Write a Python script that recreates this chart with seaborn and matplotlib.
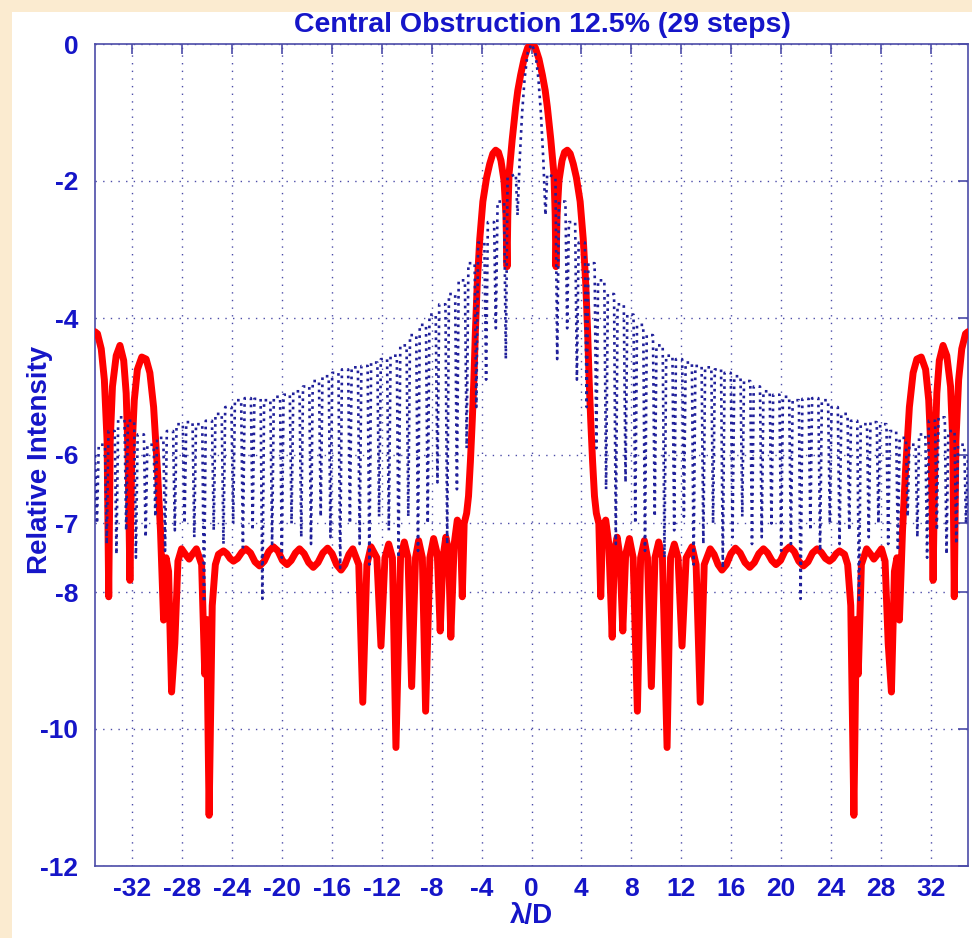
import matplotlib
matplotlib.use("Agg")
import matplotlib.pyplot as plt
from matplotlib.patches import Rectangle
import seaborn as sns
import pandas as pd

# ---------------- data ----------------
title = "Central Obstruction 12.5% (29 steps)"
x_label = "\u03bb/D"
y_label = "Relative Intensity"
x_ticks = [-32, -28, -24, -20, -16, -12, -8, -4, 0, 4, 8, 12, 16, 20, 24, 28, 32]
y_ticks = [0, -2, -4, -6, -7, -8, -10, -12]

# red curve (stepped apodisation), left half then right half
red_left = [
    (-35.0, -4.2), (-34.8, -4.23), (-34.5, -4.45), (-34.25, -4.9), (-34.03, -5.8), (-33.9, -8.07),
    (-33.78, -5.8), (-33.6, -5.0), (-33.3, -4.55), (-33.0, -4.4), (-32.7, -4.62), (-32.5, -5.1),
    (-32.35, -6.0), (-32.2, -7.83), (-32.05, -6.0), (-31.85, -5.2), (-31.6, -4.75), (-31.25, -4.57),
    (-30.9, -4.6), (-30.6, -4.8), (-30.3, -5.3), (-30.0, -6.2), (-29.75, -7.1), (-29.5, -8.41),
    (-29.3, -7.5), (-29.1, -7.7), (-28.86, -9.46), (-28.6, -8.75), (-28.35, -7.55), (-28.06, -7.37),
    (-27.75, -7.45), (-27.45, -7.52), (-27.2, -7.45), (-26.87, -7.37), (-26.45, -7.6), (-26.2, -9.2),
    (-26.05, -8.4), (-25.85, -11.26), (-25.6, -8.2), (-25.35, -7.6), (-25.1, -7.45), (-24.7, -7.4),
    (-24.43, -7.44), (-24.17, -7.51), (-23.9, -7.55), (-23.57, -7.51), (-23.23, -7.42), (-22.9, -7.37),
    (-22.53, -7.43), (-22.17, -7.56), (-21.8, -7.62), (-21.43, -7.55), (-21.07, -7.41), (-20.7, -7.34),
    (-20.33, -7.40), (-19.97, -7.54), (-19.6, -7.6), (-19.27, -7.54), (-18.93, -7.43), (-18.6, -7.37),
    (-18.23, -7.44), (-17.87, -7.57), (-17.5, -7.64), (-17.12, -7.57), (-16.73, -7.43), (-16.35, -7.36),
    (-15.99, -7.44), (-15.63, -7.60), (-15.27, -7.68), (-14.96, -7.60), (-14.64, -7.45), (-14.33, -7.37),
    (-13.85, -7.6), (-13.53, -9.61), (-13.2, -7.6), (-12.87, -7.34), (-12.4, -7.5), (-12.07, -8.79),
    (-11.75, -7.5), (-11.45, -7.3), (-11.15, -7.5), (-10.87, -10.27), (-10.5, -7.5), (-10.2, -7.27),
    (-9.9, -7.5), (-9.61, -9.38), (-9.3, -7.5), (-9.05, -7.25), (-8.75, -7.5), (-8.49, -9.74),
    (-8.15, -7.5), (-7.85, -7.22), (-7.55, -7.45), (-7.32, -8.57), (-7.1, -7.5), (-6.87, -7.2),
    (-6.65, -7.4), (-6.47, -8.66), (-6.2, -7.3), (-5.95, -6.95), (-5.7, -7.05), (-5.55, -8.07),
    (-5.4, -7.0), (-5.2, -6.85), (-5.05, -6.6), (-4.9, -6.1), (-4.75, -5.5), (-4.62, -4.9),
    (-4.5, -4.2), (-4.35, -3.5), (-4.15, -2.85), (-3.9, -2.3), (-3.6, -1.95), (-3.35, -1.75),
    (-3.1, -1.6), (-2.87, -1.55), (-2.65, -1.58), (-2.45, -1.7), (-2.2, -2.0), (-2.05, -2.5),
    (-1.96, -3.25), (-1.9, -2.5), (-1.8, -1.9), (-1.55, -1.4), (-1.27, -0.92), (-1.1, -0.68),
    (-0.87, -0.45), (-0.6, -0.22), (-0.3, -0.05),
]
red_right = [
    (0.0, 0.0), (0.3, -0.05), (0.6, -0.22), (0.87, -0.45), (1.1, -0.68), (1.27, -0.92),
    (1.55, -1.4), (1.8, -1.9), (1.9, -2.5), (1.96, -3.25), (2.05, -2.5), (2.2, -2.0),
    (2.45, -1.7), (2.65, -1.58), (2.87, -1.55), (3.1, -1.6), (3.35, -1.75), (3.6, -1.95),
    (3.9, -2.3), (4.15, -2.85), (4.35, -3.5), (4.5, -4.2), (4.62, -4.9), (4.75, -5.5),
    (4.9, -6.1), (5.05, -6.6), (5.2, -6.85), (5.4, -7.0), (5.55, -8.07), (5.7, -7.05),
    (5.95, -6.95), (6.2, -7.3), (6.47, -8.66), (6.65, -7.4), (6.87, -7.2), (7.1, -7.5),
    (7.32, -8.57), (7.55, -7.45), (7.85, -7.22), (8.15, -7.5), (8.49, -9.74), (8.75, -7.5),
    (9.05, -7.25), (9.3, -7.5), (9.61, -9.38), (9.9, -7.5), (10.2, -7.27), (10.5, -7.5),
    (10.87, -10.27), (11.15, -7.5), (11.45, -7.3), (11.75, -7.5), (12.07, -8.79), (12.4, -7.5),
    (12.87, -7.34), (13.2, -7.6), (13.53, -9.61), (13.85, -7.6), (14.33, -7.37), (14.64, -7.45),
    (14.96, -7.60), (15.27, -7.68), (15.63, -7.60), (15.99, -7.44), (16.35, -7.36), (16.73, -7.43),
    (17.12, -7.57), (17.5, -7.64), (17.87, -7.57), (18.23, -7.44), (18.6, -7.37), (18.93, -7.43),
    (19.27, -7.54), (19.6, -7.6), (19.97, -7.54), (20.33, -7.40), (20.7, -7.34), (21.07, -7.41),
    (21.43, -7.55), (21.8, -7.62), (22.17, -7.56), (22.53, -7.43), (22.9, -7.37), (23.23, -7.42),
    (23.57, -7.51), (23.9, -7.55), (24.17, -7.51), (24.43, -7.44), (24.7, -7.4), (25.1, -7.45),
    (25.35, -7.6), (25.6, -8.2), (25.85, -11.26), (26.05, -8.4), (26.2, -9.2), (26.45, -7.6),
    (26.87, -7.37), (27.2, -7.45), (27.45, -7.52), (27.75, -7.45), (28.06, -7.37), (28.35, -7.55),
    (28.6, -8.75), (28.86, -9.46), (29.1, -7.7), (29.3, -7.5), (29.5, -8.41), (29.75, -7.1),
    (30.0, -6.2), (30.3, -5.3), (30.6, -4.8), (30.9, -4.6), (31.25, -4.57), (31.6, -4.75),
    (31.85, -5.2), (32.05, -6.0), (32.2, -7.83), (32.35, -6.0), (32.5, -5.1), (32.7, -4.62),
    (33.0, -4.4), (33.3, -4.55), (33.6, -5.0), (33.78, -5.8), (33.9, -8.07), (34.03, -5.8),
    (34.25, -4.9), (34.5, -4.45), (34.8, -4.23), (35.0, -4.2),
]

# blue dotted curve (plain obstructed aperture): for each ring its null and the two ends of its top
blue_left = [
    (-35.0, -6.0), (-34.84, -7.0), (-34.7, -5.85), (-34.2, -5.85), (-34.06, -7.3), (-33.92, -5.65),
    (-33.42, -5.65), (-33.28, -7.45), (-33.14, -5.45), (-32.64, -5.45), (-32.5, -7.1), (-32.36, -5.5),
    (-31.86, -5.5), (-31.72, -7.5), (-31.58, -5.7), (-31.08, -5.7), (-30.94, -7.2), (-30.8, -5.85),
    (-30.3, -5.85), (-30.16, -6.9), (-30.02, -5.75), (-29.52, -5.75), (-29.38, -7.4), (-29.24, -5.65),
    (-28.74, -5.65), (-28.6, -7.1), (-28.46, -5.55), (-27.96, -5.55), (-27.82, -7.0), (-27.68, -5.52),
    (-27.18, -5.52), (-27.04, -7.2), (-26.9, -5.55), (-26.4, -5.55), (-26.26, -8.15), (-26.12, -5.5),
    (-25.62, -5.5), (-25.48, -7.1), (-25.34, -5.4), (-24.84, -5.4), (-24.7, -7.3), (-24.56, -5.3),
    (-24.06, -5.3), (-23.92, -7.0), (-23.78, -5.2), (-23.28, -5.2), (-23.14, -7.35), (-23.0, -5.17),
    (-22.5, -5.17), (-22.36, -7.1), (-22.22, -5.18), (-21.72, -5.18), (-21.58, -8.1), (-21.44, -5.2),
    (-20.94, -5.2), (-20.8, -7.3), (-20.66, -5.15), (-20.16, -5.15), (-20.02, -7.5), (-19.88, -5.12),
    (-19.38, -5.12), (-19.24, -7.0), (-19.1, -5.07), (-18.6, -5.07), (-18.46, -7.2), (-18.32, -5.0),
    (-17.82, -5.0), (-17.68, -7.3), (-17.54, -4.92), (-17.04, -4.92), (-16.9, -6.9), (-16.76, -4.85),
    (-16.26, -4.85), (-16.12, -7.2), (-15.98, -4.8), (-15.48, -4.8), (-15.34, -7.65), (-15.2, -4.75),
    (-14.7, -4.75), (-14.56, -7.0), (-14.42, -4.72), (-13.92, -4.72), (-13.78, -7.3), (-13.64, -4.7),
    (-13.14, -4.7), (-13.0, -7.6), (-12.86, -4.65), (-12.36, -4.65), (-12.22, -6.9), (-12.08, -4.6),
    (-11.58, -4.6), (-11.44, -7.1), (-11.3, -4.55), (-10.8, -4.55), (-10.66, -7.5), (-10.52, -4.4),
    (-10.02, -4.4), (-9.88, -6.9), (-9.74, -4.25), (-9.24, -4.25), (-9.1, -7.4), (-8.96, -4.1),
    (-8.46, -4.1), (-8.32, -7.0), (-8.18, -3.95), (-7.68, -3.95), (-7.54, -6.4), (-7.4, -3.8),
    (-6.9, -3.8), (-6.76, -7.3), (-6.62, -3.65), (-6.12, -3.65), (-5.98, -6.5), (-5.84, -3.45),
    (-5.34, -3.45), (-5.2, -5.9), (-5.06, -3.2), (-4.56, -3.2), (-4.42, -5.3), (-4.28, -2.9),
    (-3.78, -2.9), (-3.64, -4.9), (-3.5, -2.6), (-3.0, -2.6), (-2.86, -4.15), (-2.72, -2.3),
    (-2.2, -2.3), (-2.06, -4.6), (-1.92, -1.95), (-1.26, -1.9), (-1.12, -2.5), (-0.95, -1.7),
    (-0.75, -1.0), (-0.55, -0.5), (-0.3, -0.12),
]
blue_right = [
    (0.0, 0.0), (0.3, -0.12), (0.55, -0.5), (0.75, -1.0), (0.95, -1.7),
    (1.12, -2.5), (1.26, -1.9), (1.92, -1.95), (2.06, -4.6), (2.2, -2.3), (2.72, -2.3),
    (2.86, -4.15), (3.0, -2.6), (3.5, -2.6), (3.64, -4.9), (3.78, -2.9), (4.28, -2.9),
    (4.42, -5.3), (4.56, -3.2), (5.06, -3.2), (5.2, -5.9), (5.34, -3.45), (5.84, -3.45),
    (5.98, -6.5), (6.12, -3.65), (6.62, -3.65), (6.76, -7.3), (6.9, -3.8), (7.4, -3.8),
    (7.54, -6.4), (7.68, -3.95), (8.18, -3.95), (8.32, -7.0), (8.46, -4.1), (8.96, -4.1),
    (9.1, -7.4), (9.24, -4.25), (9.74, -4.25), (9.88, -6.9), (10.02, -4.4), (10.52, -4.4),
    (10.66, -7.5), (10.8, -4.55), (11.3, -4.55), (11.44, -7.1), (11.58, -4.6), (12.08, -4.6),
    (12.22, -6.9), (12.36, -4.65), (12.86, -4.65), (13.0, -7.6), (13.14, -4.7), (13.64, -4.7),
    (13.78, -7.3), (13.92, -4.72), (14.42, -4.72), (14.56, -7.0), (14.7, -4.75), (15.2, -4.75),
    (15.34, -7.65), (15.48, -4.8), (15.98, -4.8), (16.12, -7.2), (16.26, -4.85), (16.76, -4.85),
    (16.9, -6.9), (17.04, -4.92), (17.54, -4.92), (17.68, -7.3), (17.82, -5.0), (18.32, -5.0),
    (18.46, -7.2), (18.6, -5.07), (19.1, -5.07), (19.24, -7.0), (19.38, -5.12), (19.88, -5.12),
    (20.02, -7.4), (20.16, -5.15), (20.66, -5.15), (20.8, -7.3), (20.94, -5.2), (21.44, -5.2),
    (21.58, -8.1), (21.72, -5.18), (22.22, -5.18), (22.36, -7.1), (22.5, -5.17), (23.0, -5.17),
    (23.14, -7.4), (23.28, -5.2), (23.78, -5.2), (23.92, -7.0), (24.06, -5.3), (24.56, -5.3),
    (24.7, -7.3), (24.84, -5.4), (25.34, -5.4), (25.48, -7.1), (25.62, -5.5), (26.12, -5.5),
    (26.26, -8.15), (26.4, -5.55), (26.9, -5.55), (27.04, -7.2), (27.18, -5.52), (27.68, -5.52),
    (27.82, -7.0), (27.96, -5.55), (28.46, -5.55), (28.6, -7.3), (28.74, -5.65), (29.24, -5.65),
    (29.38, -7.4), (29.52, -5.75), (30.02, -5.75), (30.16, -6.9), (30.3, -5.85), (30.8, -5.85),
    (30.94, -7.2), (31.08, -5.7), (31.58, -5.7), (31.72, -7.5), (31.86, -5.5), (32.36, -5.5),
    (32.5, -7.1), (32.64, -5.45), (33.14, -5.45), (33.28, -7.45), (33.42, -5.65), (33.92, -5.65),
    (34.06, -7.3), (34.2, -5.85), (34.7, -5.85), (34.84, -7.0), (35.0, -6.0),
]

# ---------------- styling ----------------
sns.set_style("white")
plt.rcParams["font.family"] = ["Liberation Sans", "DejaVu Sans"]
plt.rcParams["font.weight"] = "bold"

TEXT_BLUE = "#1515C8"
FRAME = "#4C4CA8"
BEIGE = "#FBEBD0"

W, H = 972, 938
fig = plt.figure(figsize=(W / 100, H / 100), dpi=100, facecolor=BEIGE)
fig.add_artist(Rectangle((12 / W, 0), 1 - 12 / W, 1 - 12 / H, transform=fig.transFigure,
                         facecolor="white", edgecolor="none", zorder=0))
ax = fig.add_axes([95 / W, (H - 866) / H, (968 - 95) / W, (866 - 44) / H])
ax.set_facecolor("white")

red_df = pd.DataFrame(red_left + red_right, columns=["x", "y"])
blue_df = pd.DataFrame(blue_left + blue_right, columns=["x", "y"])

sns.lineplot(data=red_df, x="x", y="y", sort=False, estimator=None, color="#FF0000",
             linewidth=5, ax=ax, zorder=3)
sns.lineplot(data=blue_df, x="x", y="y", sort=False, estimator=None, color="#20209A",
             linewidth=1.9, linestyle=(0, (1, 1.7)), ax=ax, zorder=4)

ax.set_xlim(-35, 35)
ax.set_ylim(-12, 0)
ax.set_xticks(x_ticks)
ax.set_yticks(y_ticks)
ax.set_xticklabels([str(t) for t in x_ticks])
ax.set_yticklabels([str(t) for t in y_ticks])

ax.grid(True, color=FRAME, linestyle=(0, (1, 4.5)), linewidth=1.0, zorder=1)
for s in ax.spines.values():
    s.set_color(FRAME)
    s.set_linewidth(1.2)
    s.set_visible(True)
ax.tick_params(direction="in", length=7, width=1.2, color=FRAME, top=True, right=True,
               labelsize=19, labelcolor=TEXT_BLUE)
ax.tick_params(axis="x", pad=8)
ax.tick_params(axis="y", pad=12)
for lab in ax.get_xticklabels() + ax.get_yticklabels():
    lab.set_fontweight("bold")

ax.set_title(title, fontsize=20.5, fontweight="bold", color=TEXT_BLUE, pad=9, x=0.513)
ax.set_xlabel(x_label, fontsize=20, fontweight="bold", color=TEXT_BLUE)
ax.set_ylabel(y_label, fontsize=20, fontweight="bold", color=TEXT_BLUE)
ax.xaxis.set_label_coords(0.5, -0.045)
ax.yaxis.set_label_coords(-0.048, 0.494)

fig.savefig("out.png", dpi=100, facecolor=BEIGE)
